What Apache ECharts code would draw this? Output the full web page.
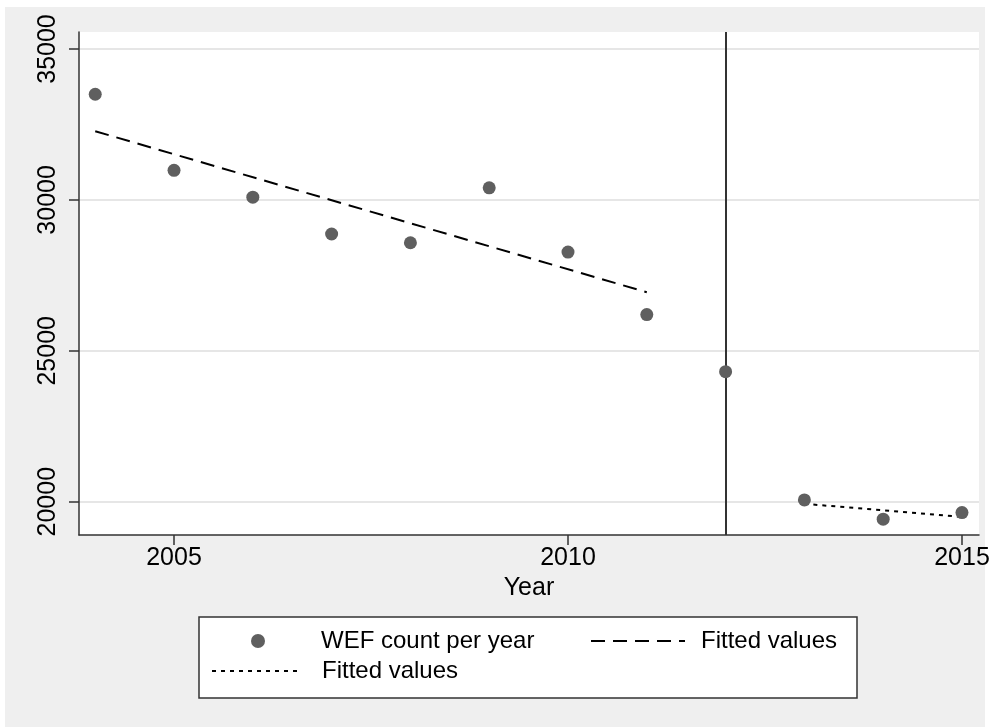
<!DOCTYPE html>
<html>
<head>
<meta charset="utf-8">
<script src="https://cdn.jsdelivr.net/npm/echarts@6/dist/echarts.min.js"></script>
<style>
html,body{margin:0;padding:0;background:#fff;}
#chart{width:995px;height:727px;}
</style>
</head>
<body>
<div id="chart"></div>
<script>
// ---- data ----
const years = [2004, 2005, 2006, 2007, 2008, 2009, 2010, 2011, 2012, 2013, 2014, 2015];
const wefCounts = [33500, 30980, 30090, 28870, 28580, 30400, 28270, 26200, 24310, 20060, 19420, 19640];
const fit1Years = [2004, 2011];
const fit1Values = [32275, 26940];
const fit2Years = [2013, 2015];
const fit2Values = [19930, 19500];
const breakYear = [2012];
const xTicks = [2005, 2010, 2015];
const yTicks = [20000, 25000, 30000, 35000];
const seriesNames = ['WEF count per year', 'Fitted values', 'Fitted values'];
const axisTitles = ['Year'];

const pair = (xs, ys) => xs.map((x, i) => [x, ys[i]]);
const FONT = '"Liberation Sans", Arial, Helvetica, sans-serif';

const chart = echarts.init(document.getElementById('chart'), null, {renderer: 'canvas'});

function legendFor(idx, seriesId, isLine, left, top, itemWidth, padLeft) {
  const l = {
    id: 'l' + idx,
    data: [isLine ? seriesId : {name: seriesId, icon: 'circle'}],
    left: left, top: top,
    padding: 0,
    itemWidth: itemWidth, itemHeight: 14,
    selectedMode: false,
    formatter: function () { return seriesNames[idx]; },
    textStyle: {fontFamily: FONT, fontSize: 24, color: '#000', lineHeight: 24, padding: [0, 0, 0, padLeft]}
  };
  if (isLine) {
    l.itemStyle = {opacity: 0, color: 'rgba(0,0,0,0)', borderWidth: 0};
  }
  return l;
}

const option = {
  backgroundColor: '#fff',
  animation: false,
  graphic: {
    elements: [
      {type: 'rect', z: -100, silent: true, shape: {x: 5, y: 7, width: 980, height: 720}, style: {fill: '#efefef'}},
      {type: 'rect', z: -50, silent: true, shape: {x: 199, y: 617, width: 658, height: 81}, style: {fill: '#fff', stroke: '#333', lineWidth: 1.5}}
    ]
  },
  grid: {
    show: true, backgroundColor: '#fff', borderWidth: 0,
    left: 79, right: 16, top: 32, bottom: 192
  },
  legend: [
    legendFor(0, 'wef', false, 251, 629, 14, 51),
    legendFor(1, 'fit1', true, 590, 629, 94, 11),
    legendFor(2, 'fit2', true, 211, 659, 89, 16)
  ],
  xAxis: {
    type: 'value',
    min: 2003.794, max: 2015.216,
    name: axisTitles[0], nameLocation: 'middle', nameGap: 39,
    nameTextStyle: {fontFamily: FONT, fontSize: 25, color: '#000'},
    axisLine: {show: true, onZero: false, lineStyle: {color: '#333', width: 1.5}},
    axisTick: {show: true, length: 10, lineStyle: {color: '#333', width: 1.5}, customValues: xTicks},
    axisLabel: {fontFamily: FONT, fontSize: 25, color: '#000', margin: 11, customValues: xTicks,
      formatter: v => String(v)},
    splitLine: {show: false}
  },
  yAxis: {
    type: 'value',
    min: 18897, max: 35563,
    axisLine: {show: true, onZero: false, lineStyle: {color: '#333', width: 1.5}},
    axisTick: {show: true, length: 10, lineStyle: {color: '#333', width: 1.5}, customValues: yTicks},
    axisLabel: {fontFamily: FONT, fontSize: 25, color: '#000', margin: 18, rotate: 90, customValues: yTicks,
      formatter: v => String(v)},
    splitLine: {show: true, lineStyle: {color: '#e6e6e6', width: 2}}
  },
  series: [
    {
      name: 'wef', type: 'scatter',
      data: pair(years, wefCounts),
      symbol: 'circle', symbolSize: 13,
      itemStyle: {color: '#5f5f5f', opacity: 1},
      z: 5,
      markLine: {
        silent: true, symbol: 'none', label: {show: false},
        lineStyle: {color: '#333', width: 2, type: 'solid'},
        data: breakYear.map(y => ({xAxis: y}))
      }
    },
    {
      name: 'fit1', type: 'line',
      data: pair(fit1Years, fit1Values),
      symbol: 'none',
      lineStyle: {color: '#000', width: 2, type: [14, 8]},
      itemStyle: {color: '#000'}
    },
    {
      name: 'fit2', type: 'line',
      data: pair(fit2Years, fit2Values),
      symbol: 'none',
      lineStyle: {color: '#000', width: 2, type: [4, 5]},
      itemStyle: {color: '#000'}
    }
  ]
};
chart.setOption(option);
</script>
</body>
</html>
